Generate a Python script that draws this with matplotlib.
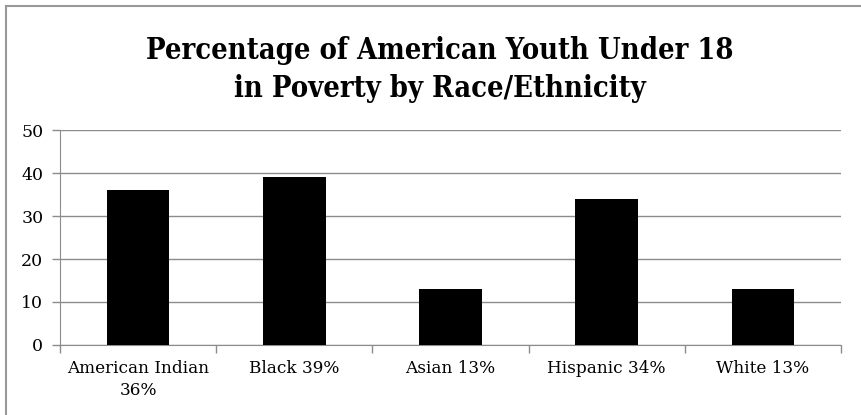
import matplotlib
matplotlib.use("Agg")
import matplotlib.pyplot as plt
from matplotlib.lines import Line2D

# Data
categories = ["American Indian\n36%", "Black 39%", "Asian 13%", "Hispanic 34%", "White 13%"]
values = [36, 39, 13, 34, 13]
y_ticks = [0, 10, 20, 30, 40, 50]

GRID = "#8c8c8c"

fig = plt.figure(figsize=(8.61, 4.15), dpi=100)
ax = fig.add_axes([0.0697, 0.1687, 0.9071, 0.518])

x = list(range(len(categories)))
ax.bar(x, values, width=0.4, color="black", zorder=3)

ax.set_xlim(-0.5, len(categories) - 0.5)
ax.set_ylim(0, 50)
ax.set_yticks(y_ticks)
ax.yaxis.grid(True, color=GRID, linewidth=1.0)
ax.set_axisbelow(True)

# category boundary ticks, labels centred under the bars
ax.set_xticks([i - 0.5 for i in range(len(categories) + 1)])
ax.set_xticklabels([])
ax.set_xticks(x, minor=True)
ax.set_xticklabels(categories, minor=True, fontsize=12.2, family="DejaVu Serif",
                   linespacing=1.4)
ax.tick_params(axis="x", which="minor", length=0, pad=11)
ax.tick_params(axis="x", which="major", length=6, color=GRID, width=1)
ax.tick_params(axis="y", length=6, color=GRID, width=1, labelsize=12.5, pad=6)
for lab in ax.get_yticklabels():
    lab.set_family("DejaVu Serif")

for side in ["top", "right"]:
    ax.spines[side].set_visible(False)
ax.spines["left"].set_color(GRID)
ax.spines["bottom"].set_color(GRID)

# title
title_kw = dict(ha="center", va="center", fontsize=20.8, fontweight="bold",
                family="DejaVu Serif", fontstretch="condensed")
fig.text(440 / 861, 0.878, "Percentage of American Youth Under 18", **title_kw)
fig.text(440 / 861, 0.786, "in Poverty by Race/Ethnicity", **title_kw)

# outer frame (top and left edge)
fig.add_artist(Line2D([6 / 861, 1], [1 - 6 / 415, 1 - 6 / 415], color="#999999", linewidth=1.5))
fig.add_artist(Line2D([6 / 861, 6 / 861], [0, 1 - 6 / 415], color="#999999", linewidth=1.5))

fig.savefig("out.png", dpi=100)
